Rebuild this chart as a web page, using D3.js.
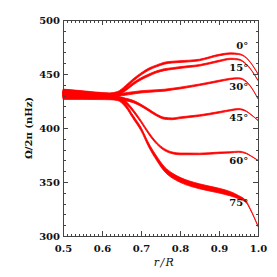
<!DOCTYPE html>
<meta charset="utf-8">
<html>
<head>
<style>
body { margin: 0; background: #fff; }
.axis path, .axis line { stroke: #444; shape-rendering: crispEdges; }
.axis text { font-family: "DejaVu Serif", serif; font-weight: bold; font-size: 10px; fill: #111; }
.lab { font-family: "DejaVu Serif", serif; font-weight: bold; font-size: 10px; fill: #111; }
</style>
<script src="https://d3js.org/d3.v7.min.js"></script>
</head>
<body>
<div id="chart"></div>
<script>

// radius grid, r/R
var radius = [0.50, 0.55, 0.60, 0.62, 0.64, 0.66, 0.68, 0.70, 0.72, 0.74, 0.76, 0.78, 0.80, 0.85, 0.90, 0.93, 0.95, 0.97, 0.98, 1.00];

// rotation rate (nHz) at each latitude
var lat0  = [433.0, 432.0, 431.0, 431.0, 432.5, 438.0, 444.5, 450.0, 454.5, 457.5, 460.0, 461.0, 461.5, 463.0, 467.5, 469.0, 468.5, 465.0, 461.0, 450.0];
var lat15 = [432.5, 431.5, 430.5, 430.5, 431.5, 435.5, 441.0, 445.5, 449.0, 452.0, 454.0, 455.0, 456.0, 458.0, 462.0, 464.0, 463.5, 459.0, 455.0, 444.0];
var lat30 = [431.5, 431.0, 430.0, 430.0, 430.5, 431.5, 432.5, 433.5, 434.0, 434.5, 435.0, 436.0, 437.0, 440.0, 443.5, 445.5, 446.0, 443.0, 439.0, 427.0];
var lat45 = [431.0, 430.5, 429.5, 429.0, 428.0, 426.5, 424.5, 421.0, 416.5, 412.0, 409.0, 408.5, 409.5, 411.5, 414.5, 416.5, 417.5, 415.5, 413.0, 407.0];
var lat60 = [430.5, 430.0, 429.0, 428.5, 427.5, 424.0, 416.0, 406.0, 395.0, 386.0, 380.0, 377.0, 376.0, 376.0, 377.0, 377.5, 378.0, 376.5, 374.5, 370.0];
var lat75 = [430.0, 429.5, 428.5, 428.0, 427.0, 421.0, 410.0, 399.0, 384.0, 372.0, 362.0, 356.0, 352.0, 346.0, 342.0, 339.0, 336.0, 331.5, 325.0, 309.0];

// half width of the error band (nHz)
var errLow  = [3.0, 2.5, 1.8, 1.5, 1.3, 1.2, 1.1, 1.0, 1.0, 0.9, 0.9, 0.8, 0.8, 0.7, 0.7, 0.6, 0.5, 0.3, 0.2, 0.1];
var errHigh = [3.5, 3.0, 2.2, 1.8, 1.6, 1.5, 1.5, 1.6, 1.8, 2.0, 2.2, 2.3, 2.3, 2.3, 2.2, 2.0, 1.5, 0.8, 0.5, 0.3];

var latLabels = ["0°", "15°", "30°", "45°", "60°", "75°"];
var latSeries = [lat0, lat15, lat30, lat45, lat60, lat75];
var latErr    = [errLow, errLow, errLow, errLow, errLow, errHigh];
var labelDy   = [-9, 8, 8, 8.5, 9, 5.5];

var xTicks = [0.5, 0.6, 0.7, 0.8, 0.9, 1.0];
var yTicks = [300, 350, 400, 450, 500];

var margin = {top: 20, right: 19, bottom: 41, left: 63},
    width = 277 - margin.left - margin.right,
    height = 277 - margin.top - margin.bottom;

var svg = d3.select("#chart")
  .append("svg")
    .attr("width", 277)
    .attr("height", 277)
  .append("g")
    .attr("transform", "translate(" + margin.left + "," + margin.top + ")");

var x = d3.scaleLinear().domain([0.5, 1.0]).range([0, width]);
var y = d3.scaleLinear().domain([300, 500]).range([height, 0]);

var xMinor = d3.range(50, 101).map(function(d) { return d / 100; });
var yMinor = d3.range(300, 501, 10);

// bands
latSeries.forEach(function(s, i) {
  var rows = radius.map(function(r, j) { return {r: r, v: s[j], e: latErr[i][j]}; });
  var area = d3.area()
    .x(function(d) { return x(d.r); })
    .y0(function(d) { return y(d.v - d.e); })
    .y1(function(d) { return y(d.v + d.e); })
    .curve(d3.curveMonotoneX);
  svg.append("path")
    .datum(rows)
    .attr("d", area)
    .attr("fill", "#ff0000")
    .attr("stroke", "#ff0000")
    .attr("stroke-width", 0.8);
});

// frame with inward ticks
svg.append("g").attr("class", "axis")
  .attr("transform", "translate(0," + height + ")")
  .call(d3.axisBottom(x).tickValues(xTicks).tickSize(-5).tickSizeOuter(0).tickPadding(9).tickFormat(d3.format(".1f")));
svg.append("g").attr("class", "axis")
  .attr("transform", "translate(0," + height + ")")
  .call(d3.axisBottom(x).tickValues(xMinor).tickSize(-2.5).tickSizeOuter(0).tickFormat(""));
svg.append("g").attr("class", "axis")
  .call(d3.axisTop(x).tickValues(xTicks).tickSize(-5).tickSizeOuter(0).tickFormat(""));
svg.append("g").attr("class", "axis")
  .call(d3.axisTop(x).tickValues(xMinor).tickSize(-2.5).tickSizeOuter(0).tickFormat(""));

svg.append("g").attr("class", "axis")
  .call(d3.axisLeft(y).tickValues(yTicks).tickSize(-5).tickSizeOuter(0).tickPadding(3));
svg.append("g").attr("class", "axis")
  .call(d3.axisLeft(y).tickValues(yMinor).tickSize(-2.5).tickSizeOuter(0).tickFormat(""));
svg.append("g").attr("class", "axis")
  .attr("transform", "translate(" + width + ",0)")
  .call(d3.axisRight(y).tickValues(yTicks).tickSize(-5).tickSizeOuter(0).tickFormat(""));
svg.append("g").attr("class", "axis")
  .attr("transform", "translate(" + width + ",0)")
  .call(d3.axisRight(y).tickValues(yMinor).tickSize(-2.5).tickSizeOuter(0).tickFormat(""));

// latitude labels
var iLab = radius.indexOf(0.95);
latSeries.forEach(function(s, i) {
  svg.append("text")
    .attr("class", "lab")
    .attr("x", x(0.975))
    .attr("y", y(s[iLab]) + labelDy[i])
    .attr("dy", "0.35em")
    .style("text-anchor", "end")
    .text(latLabels[i]);
});

// axis titles
svg.append("text")
  .attr("class", "lab")
  .attr("transform", "translate(" + (-35) + "," + (height / 2) + ") rotate(-90)")
  .attr("dy", "0.35em")
  .style("text-anchor", "middle")
  .text("Ω/2π (nHz)");

svg.append("text")
  .attr("x", width / 2 + 4)
  .attr("y", height + 30)
  .style("font-family", "DejaVu Serif, serif")
  .style("font-style", "italic")
  .style("font-size", "11px")
  .style("letter-spacing", "1.5px")
  .style("text-anchor", "middle")
  .attr("fill", "#111")
  .text("r/R");

</script>
</body>
</html>
